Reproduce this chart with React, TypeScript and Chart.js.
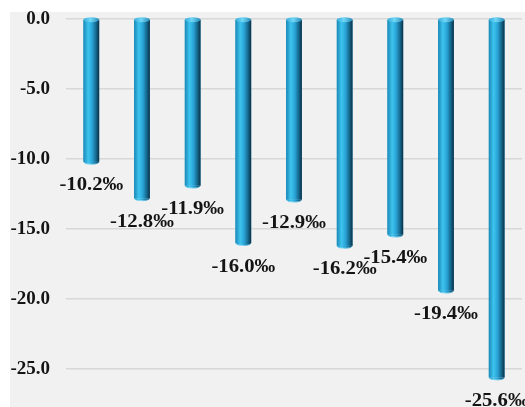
import React, { useEffect, useRef } from "react";
import { Chart, registerables } from "chart.js";

Chart.register(...registerables);

const categories: string[] = ["1", "2", "3", "4", "5", "6", "7", "8", "9"];
const values: number[] = [-10.2, -12.8, -11.9, -16.0, -12.9, -16.2, -15.4, -19.4, -25.6];
const tickValues: number[] = [-25, -20, -15, -10, -5, 0];
const yMin = -27.5;
const yMax = 0;

const FONT = '"Liberation Serif", "Times New Roman", serif';

const barPlugin = {
  id: "cylinderBars",
  afterDatasetsDraw(chart: any) {
    const ctx: CanvasRenderingContext2D = chart.ctx;
    const meta = chart.getDatasetMeta(0);
    ctx.save();
    meta.data.forEach((el: any, i: number) => {
      const { x, y, base, width } = el.getProps(["x", "y", "base", "width"], true);
      const l = x - width / 2;
      const g = ctx.createLinearGradient(l, 0, l + width, 0);
      g.addColorStop(0, "#1b88b6");
      g.addColorStop(0.3, "#3fc4ef");
      g.addColorStop(0.55, "#29a4d6");
      g.addColorStop(0.8, "#15688e");
      g.addColorStop(1, "#0a3044");
      ctx.fillStyle = g;
      ctx.fillRect(l, base, width, y - base);
      // bottom rounded end
      ctx.beginPath();
      ctx.ellipse(x, y, width / 2, 2.5, 0, 0, Math.PI);
      ctx.fill();
      const gb = ctx.createLinearGradient(l, 0, l + width, 0);
      gb.addColorStop(0, "#3fb6e0");
      gb.addColorStop(0.4, "#8fe0f8");
      gb.addColorStop(1, "#2a8ab5");
      ctx.strokeStyle = gb;
      ctx.lineWidth = 1;
      ctx.beginPath();
      ctx.ellipse(x, y, width / 2 - 0.5, 2.5, 0, 0.15, Math.PI - 0.15);
      ctx.stroke();
      // top cap
      const gt = ctx.createLinearGradient(l, 0, l + width, 0);
      gt.addColorStop(0, "#36aedb");
      gt.addColorStop(0.45, "#72d6f5");
      gt.addColorStop(1, "#2a8cba");
      ctx.fillStyle = gt;
      ctx.beginPath();
      ctx.ellipse(x, base, width / 2, 2.5, 0, 0, Math.PI * 2);
      ctx.fill();
      // value label (slightly widened like the reference)
      ctx.save();
      ctx.translate(x, y + 24);
      ctx.scale(1.15, 1);
      ctx.fillStyle = "#141414";
      ctx.font = `bold 18px ${FONT}`;
      ctx.textAlign = "center";
      ctx.textBaseline = "middle";
      ctx.fillText(values[i].toFixed(1) + "\u2030", 0, 0);
      ctx.restore();
    });
    ctx.restore();
  },
};

export default function App() {
  const canvasRef = useRef<HTMLCanvasElement | null>(null);

  useEffect(() => {
    const canvas = canvasRef.current;
    if (!canvas) return;
    const chart = new Chart(canvas, {
      type: "bar",
      data: {
        labels: categories,
        datasets: [
          {
            data: values,
            backgroundColor: "#29a4d6",
            borderWidth: 0,
            barPercentage: 0.31,
            categoryPercentage: 1,
          },
        ],
      },
      options: {
        responsive: false,
        animation: false,
        devicePixelRatio: 1,
        layout: { padding: { left: 0, right: 3, top: 19, bottom: 3 } },
        plugins: {
          legend: { display: false },
          tooltip: { enabled: false },
          title: { display: false },
        },
        scales: {
          x: { display: false },
          y: {
            min: yMin,
            max: yMax,
            afterBuildTicks: (scale: any) => {
              scale.ticks = tickValues.map((v) => ({ value: v }));
            },
            afterFit: (scale: any) => {
              scale.width = 66;
              scale.paddingTop = 0;
              scale.paddingBottom = 0;
            },
            grid: { color: "#d8d8d8", lineWidth: 1.5, drawTicks: false },
            border: { display: false },
            ticks: {
              padding: 16,
              color: "#141414",
              font: { family: FONT, size: 19, weight: "bold" },
              callback: (v: any) => Number(v).toFixed(1),
            },
          },
        },
      },
      plugins: [barPlugin],
    } as any);
    return () => chart.destroy();
  }, []);

  return (
    <div style={{ position: "fixed", left: 0, top: 0, width: 525, height: 407, background: "#ffffff", overflow: "hidden" }}>
      <div style={{ position: "absolute", left: 10, top: 12, width: 515, height: 395, background: "#f1f1f1" }} />
      <canvas ref={canvasRef} width={525} height={407} style={{ position: "absolute", left: 0, top: 0 }} />
    </div>
  );
}
